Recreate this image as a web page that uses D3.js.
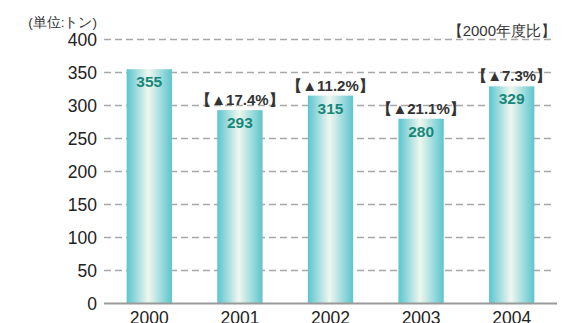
<!DOCTYPE html>
<html>
<head>
<meta charset="utf-8">
<script src="https://cdn.jsdelivr.net/npm/d3@7"></script>
<style>
  body { margin: 0; background: #fff; }
  text { font-family: "Liberation Sans", Arial, sans-serif; }
</style>
</head>
<body>
<div id="chart"></div>
<script>
// data
var years = ["2000", "2001", "2002", "2003", "2004"];
var tons = [355, 293, 315, 280, 329];
var changes = ["", "▲17.4%", "▲11.2%", "▲21.1%", "▲7.3%"];
var yTicks = [0, 50, 100, 150, 200, 250, 300, 350, 400];

var W = 575, H = 323;
var margin = {top: 39.5, right: 18, bottom: 19.5, left: 104},
    width = W - margin.left - margin.right,
    height = H - margin.top - margin.bottom;

var svg = d3.select("#chart").append("svg")
    .attr("width", W)
    .attr("height", H);

// bar gradient
var grad = svg.append("defs").append("linearGradient")
    .attr("id", "barGrad")
    .attr("x1", "0%").attr("x2", "100%").attr("y1", "0%").attr("y2", "0%");
grad.append("stop").attr("offset", "0%").attr("stop-color", "#5ac5cf");
grad.append("stop").attr("offset", "48%").attr("stop-color", "#eff7ef");
grad.append("stop").attr("offset", "100%").attr("stop-color", "#5cc5ce");

var g = svg.append("g")
    .attr("transform", "translate(" + margin.left + "," + margin.top + ")");

var x = d3.scaleBand().domain(years).range([0, width])
    .paddingInner(0.5).paddingOuter(0.25);
var y = d3.scaleLinear().domain([0, 400]).range([height, 0]);

// dashed gridlines
g.selectAll(".grid")
  .data(yTicks.filter(function(d) { return d > 0; }))
  .enter().append("line")
    .attr("x1", 0).attr("x2", width - 3)
    .attr("y1", function(d) { return y(d); })
    .attr("y2", function(d) { return y(d); })
    .attr("stroke", "#a8a8a8")
    .attr("stroke-width", 1.3)
    .attr("stroke-dasharray", "7,4");

// y axis labels
var yAxis = g.append("g")
    .call(d3.axisLeft(y).tickValues(yTicks).tickSize(0).tickPadding(7));
yAxis.select(".domain").remove();
yAxis.selectAll("text")
    .attr("font-family", "Liberation Sans, Arial, sans-serif")
    .attr("font-size", 17.5)
    .attr("fill", "#222");

// bars
g.selectAll(".bar")
  .data(tons)
  .enter().append("rect")
    .attr("x", function(d, i) { return x(years[i]); })
    .attr("y", function(d) { return y(d); })
    .attr("width", x.bandwidth())
    .attr("height", function(d) { return height - y(d); })
    .attr("fill", "url(#barGrad)");

// baseline
g.append("line")
    .attr("x1", 0).attr("x2", width)
    .attr("y1", y(0)).attr("y2", y(0))
    .attr("stroke", "#9a9a9a")
    .attr("stroke-width", 2);

// x axis labels
var xAxis = g.append("g")
    .attr("transform", "translate(0," + height + ")")
    .call(d3.axisBottom(x).tickSize(0).tickPadding(8));
xAxis.select(".domain").remove();
xAxis.selectAll("text")
    .attr("font-family", "Liberation Sans, Arial, sans-serif")
    .attr("font-size", 17.5)
    .attr("fill", "#222");

// values inside bars
g.selectAll(".val")
  .data(tons)
  .enter().append("text")
    .attr("x", function(d, i) { return x(years[i]) + x.bandwidth() / 2; })
    .attr("y", function(d) { return y(d) + 18; })
    .attr("text-anchor", "middle")
    .attr("font-size", 15.5)
    .attr("font-weight", "bold")
    .attr("fill", "#17877a")
    .text(function(d) { return d; });

// change vs 2000 (skip the base year)
var chgData = years.map(function(yr, i) {
  return {year: yr, value: tons[i], label: changes[i]};
}).filter(function(d) { return d.label !== ""; });

g.selectAll(".chg")
  .data(chgData)
  .enter().append("text")
    .attr("x", function(d) { return x(d.year) + x.bandwidth() / 2; })
    .attr("y", function(d) { return y(d.value) - 5; })
    .attr("text-anchor", "middle")
    .attr("font-size", 15)
    .attr("font-weight", "bold")
    .attr("fill", "#333")
    .text(function(d) { return "【" + d.label + "】"; });

// unit label
svg.append("text")
    .attr("x", 97).attr("y", 27)
    .attr("text-anchor", "end")
    .attr("font-size", 13.5)
    .attr("fill", "#333")
    .text("(単位:トン)");

svg.append("text")
    .attr("x", 556).attr("y", 36)
    .attr("text-anchor", "end")
    .attr("font-size", 15)
    .attr("fill", "#333")
    .text("【2000年度比】");
</script>
</body>
</html>
